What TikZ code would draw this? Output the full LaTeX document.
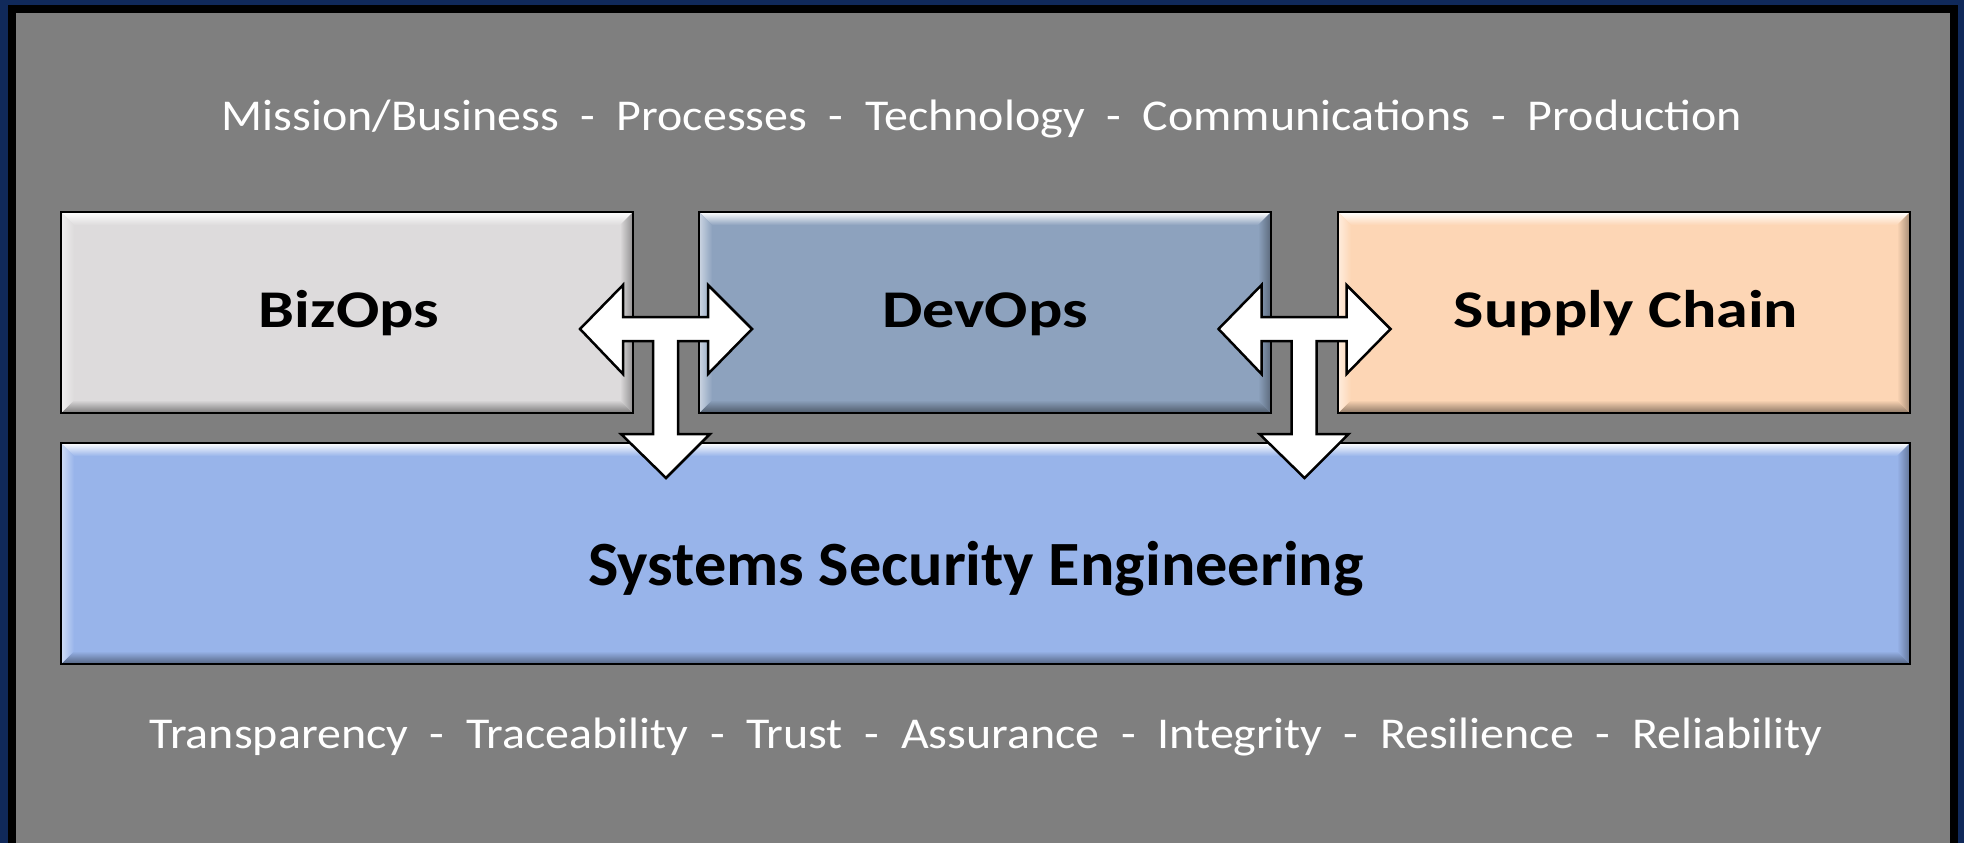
\documentclass[tikz,border=0pt]{standalone}
\usepackage{fontspec}
\setmainfont{Carlito}
\usetikzlibrary{calc}
\definecolor{navy}{HTML}{10295A}
\definecolor{bggray}{HTML}{7F7F7F}
\definecolor{bizc}{HTML}{DDDBDC}
\definecolor{devc}{HTML}{8DA2BE}
\definecolor{supc}{HTML}{FDD6B5}
\definecolor{ssec}{HTML}{98B4EA}
\tikzset{
  box/.style={rectangle, draw=black, line width=2.5pt, inner sep=0pt, outer sep=0pt},
  lbl/.style={anchor=base, inner sep=0pt, xscale=1.21, font=\fontsize{53}{60}\selectfont\bfseries, text=black},
  bandtext/.style={anchor=base, inner sep=0pt, xscale=1.09, font=\fontsize{44}{52}\selectfont, text=white},
  tarrow/.pic={
    \draw[fill=white, line width=2.5pt, line join=miter]
      (-86,0) -- (-43,-44) -- (-43,-12) -- (42,-12) -- (42,-44) -- (86,0)
      -- (42,45) -- (42,12) -- (12,12) -- (12,105) -- (44,105) -- (0,149)
      -- (-45,105) -- (-13,105) -- (-13,12) -- (-43,12) -- (-43,45) -- cycle;
  }
}
\newcommand{\bevelbox}[2]{%
  \shade[top color=white, bottom color=#2]
    (#1.north west) -- (#1.north east) -- ($(#1.north east)+(-13,13)$) -- ($(#1.north west)+(13,13)$) -- cycle;
  \shade[top color=#2, bottom color=#2!55!black]
    (#1.south west) -- (#1.south east) -- ($(#1.south east)+(-13,-13)$) -- ($(#1.south west)+(13,-13)$) -- cycle;
  \shade[left color=#2!45!white, right color=#2]
    (#1.north west) -- ($(#1.north west)+(13,13)$) -- ($(#1.south west)+(13,-13)$) -- (#1.south west) -- cycle;
  \shade[left color=#2, right color=#2!65!black]
    (#1.north east) -- ($(#1.north east)+(-13,13)$) -- ($(#1.south east)+(-13,-13)$) -- (#1.south east) -- cycle;
  \draw[line width=2.5pt] (#1.north west) rectangle (#1.south east);
}
\begin{document}
\begin{tikzpicture}[x=1pt, y=-1pt]
  \useasboundingbox (0,0) rectangle (1964,843);
  \fill[navy] (0,0) rectangle (1964,843);
  \fill[black] (8,5) rectangle (1958,843);
  \fill[bggray] (16,13) rectangle (1950,843);

  \node[bandtext] (top) at (982,130) {Mission/Business\ \ -\ \ Processes\ \ -\ \ Technology\ \ -\ \ Communications\ \ -\ \ Production};

  \node[box, fill=bizc, minimum width=572pt, minimum height=201pt] (biz) at (347,312.5) {};
  \node[box, fill=devc, minimum width=572pt, minimum height=201pt] (dev) at (985,312.5) {};
  \node[box, fill=supc, minimum width=572pt, minimum height=201pt] (sup) at (1624,312.5) {};
  \node[box, fill=ssec, minimum width=1849pt, minimum height=221pt] (sse) at (985.5,553.5) {};
  \bevelbox{biz}{bizc}
  \bevelbox{dev}{devc}
  \bevelbox{sup}{supc}
  \bevelbox{sse}{ssec}

  \node[lbl] (bizl) at (349,327) {BizOps};
  \node[lbl] (devl) at (dev.center |- 0,327) {DevOps};
  \node[lbl] (supl) at (1626,327) {Supply Chain};
  \node[lbl, xscale=1.02/1.21, font=\fontsize{63}{70}\selectfont\bfseries] (ssel) at (976,585) {Systems Security Engineering};

  \coordinate (a1) at ($(biz.east)!0.5!(dev.west)$);
  \coordinate (a2) at ($(dev.east)!0.5!(sup.west)$);
  \pic at (a1 |- 0,329) {tarrow};
  \pic at (a2 |- 0,329) {tarrow};

  \node[bandtext] (bot) at (986,748) {Transparency\ \ -\ \ Traceability\ \ -\ \ Trust\ \ -\ \ Assurance\ \ -\ \ Integrity\ \ -\ \ Resilience\ \ -\ \ Reliability};
\end{tikzpicture}
\end{document}
